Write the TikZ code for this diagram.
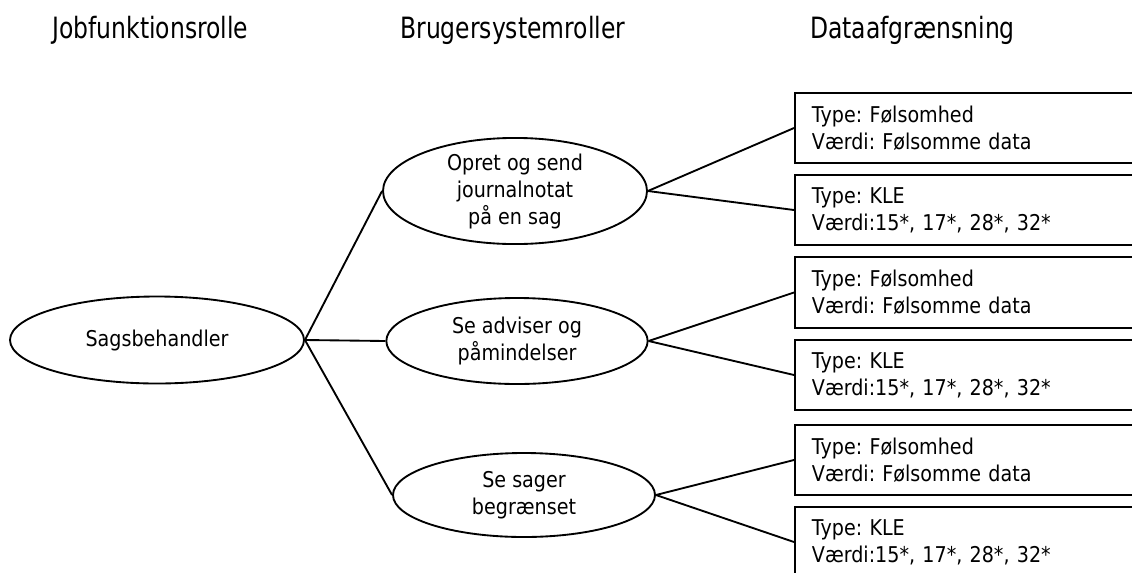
\documentclass[tikz,border=0pt]{standalone}
\usepackage{fontspec}
\setmainfont{DejaVu Sans}[FakeStretch=0.88]
\newfontfamily\headfont{DejaVu Sans}[FakeStretch=0.8]
\usetikzlibrary{shapes.geometric}
\frenchspacing
\begin{document}
\begin{tikzpicture}[x=0.75pt,y=-0.75pt,
  every node/.style={font=\fontsize{16.3}{20.25}\selectfont},
  role/.style={draw,ellipse,line width=1.4pt,inner sep=0pt,align=center},
  databox/.style={draw,rectangle,line width=1.4pt,anchor=west,minimum height=53pt,
    inner xsep=12.75pt,inner ysep=0pt,text width=247pt,align=left},
  head/.style={anchor=west,inner sep=0pt,font=\headfont\fontsize{22}{24}\selectfont},
  link/.style={line width=1.4pt}]
\useasboundingbox (0,0) rectangle (1132,572);
\clip (0,0) rectangle (1132,572);

% column headings
\node[head] (h1) at (52,30) {Jobfunktionsrolle};
\node[head] (h2) at (400,30) {Brugersystemroller};
\node[head] (h3) at (810,30) {Dataafgrænsning};

% job function role
\node[role,minimum width=220.5pt,minimum height=65.25pt] (sag) at (157,340) {Sagsbehandler};

% user system roles
\node[role,minimum width=198pt,minimum height=63pt] (r1) at (515,191) {Opret og send\\journalnotat\\på en sag};
\node[role,minimum width=196pt,minimum height=64.5pt] (r2) at (517,341) {Se adviser og\\påmindelser};
\node[role,minimum width=196.5pt,minimum height=63pt] (r3) at (524,495) {Se sager\\begrænset};

% data restrictions
\node[databox] (d1) at (794,128) {Type: Følsomhed\\Værdi: Følsomme data};
\node[databox] (d2) at (794,210) {Type: KLE\\Værdi:15*, 17*, 28*, 32*};
\node[databox] (d3) at (794,292.5) {Type: Følsomhed\\Værdi: Følsomme data};
\node[databox] (d4) at (794,375) {Type: KLE\\Værdi:15*, 17*, 28*, 32*};
\node[databox] (d5) at (794,460) {Type: Følsomhed\\Værdi: Følsomme data};
\node[databox] (d6) at (794,542) {Type: KLE\\Værdi:15*, 17*, 28*, 32*};

% connectors
\draw[link] (sag.east) -- (r1.west);
\draw[link] (sag.east) -- (r2.west);
\draw[link] (sag.east) -- (r3.west);
\draw[link] (r1.east) -- (d1.west);
\draw[link] (r1.east) -- (d2.west);
\draw[link] (r2.east) -- (d3.west);
\draw[link] (r2.east) -- (d4.west);
\draw[link] (r3.east) -- (d5.west);
\draw[link] (r3.east) -- (d6.west);
\end{tikzpicture}
\end{document}
